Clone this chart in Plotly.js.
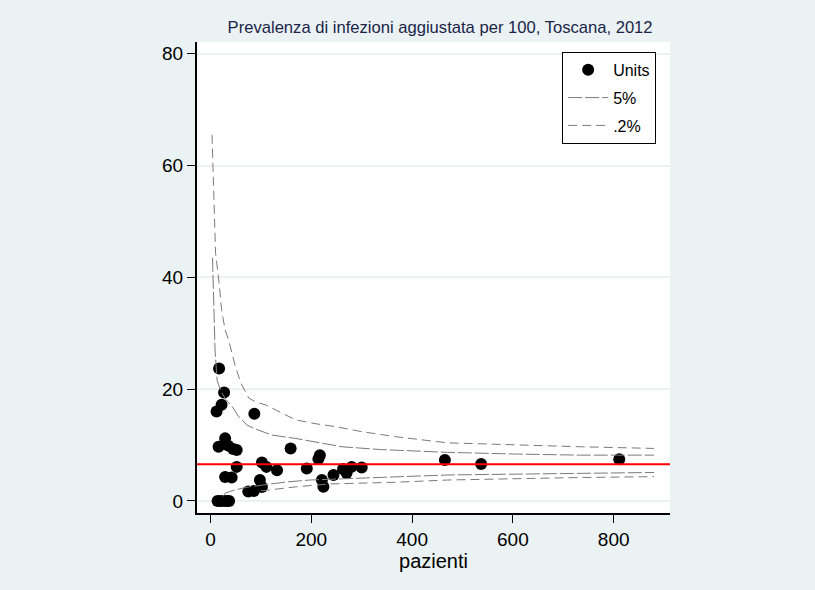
<!DOCTYPE html>
<html>
<head>
<meta charset="utf-8">
<script src="https://cdn.plot.ly/plotly-3.0.1.min.js"></script>
<style>html,body{margin:0;padding:0;background:#eaf2f3;}</style>
</head>
<body>
<div id="chart" style="width:815px;height:590px;"></div>
<script>
// Units (pazienti, prevalenza per 100)
var unitsN = [17, 27, 22, 12, 87, 29, 16, 35, 45, 52, 159, 52, 102, 111, 132, 29, 42, 98, 102, 75, 86, 191, 214, 217, 244, 221, 224, 263, 270, 280, 300, 465, 537, 811, 14, 20, 27, 33, 37];
var unitsV = [23.7, 19.4, 17.2, 16.0, 15.6, 11.2, 9.7, 9.9, 9.3, 9.1, 9.4, 6.1, 6.9, 6.1, 5.5, 4.3, 4.2, 3.75, 2.5, 1.7, 1.8, 5.8, 7.5, 8.2, 4.65, 3.75, 2.55, 5.7, 5.0, 6.1, 6.0, 7.35, 6.6, 7.45, 0, 0, 0, 0, 0];

// overall prevalence (red line)
var overall = 6.55;
var xRange = [-26.8, 911.7];

// 5% limits
var upper5N = [4, 6, 9, 13, 20, 30, 43, 55, 72, 86, 121, 168, 261, 337, 470, 602, 734, 880];
var upper5V = [43.5, 36, 27, 21.6, 19.8, 18.2, 16.9, 15.2, 13.6, 13.0, 11.8, 11.2, 9.7, 9.2, 8.7, 8.4, 8.2, 8.2];
var lower5N = [25, 29, 49, 75, 108, 150, 197, 297, 367, 470, 602, 734, 880];
var lower5V = [0.8, 1.4, 2.0, 2.5, 2.9, 3.4, 3.75, 4.05, 4.3, 4.65, 4.8, 5.0, 5.1];

// 0.2% limits
var upper02N = [3, 6, 10, 17, 22, 29, 36, 48, 60, 76, 90, 109, 142, 169, 210, 248, 300, 367, 470, 600, 734, 880];
var upper02V = [65.5, 55, 44.4, 39, 34.2, 30.6, 28.8, 24.5, 21.1, 18.4, 17.7, 17.2, 15.7, 14.5, 13.8, 13.3, 12.4, 11.5, 10.4, 10.0, 9.7, 9.4];
var lower02N = [100, 131, 171, 237, 297, 367, 470, 602, 734, 880];
var lower02V = [1.8, 2.1, 2.55, 3.05, 3.2, 3.35, 3.75, 4.0, 4.2, 4.35];

var yTicks = [0, 20, 40, 60, 80];
var xTicks = [0, 200, 400, 600, 800];

var FONT = 'Liberation Sans, Arial, sans-serif';
var GRAY = '#7a7a7a';

var traces = [
  {
    x: unitsN, y: unitsV, type: 'scatter', mode: 'markers', name: 'Units',
    legendgroup: 'a',
    marker: {color: '#000000', size: 12, line: {width: 0}}
  },
  {
    x: upper5N.concat([null], lower5N), y: upper5V.concat([null], lower5V),
    type: 'scatter', mode: 'lines', name: '5%', legendgroup: 'b',
    connectgaps: false,
    line: {color: GRAY, width: 1, dash: '14px,3px'}
  },
  {
    x: upper02N.concat([null], lower02N), y: upper02V.concat([null], lower02V),
    type: 'scatter', mode: 'lines', name: '.2%', legendgroup: 'c',
    connectgaps: false,
    line: {color: GRAY, width: 1, dash: '9px,5px'}
  },
  {
    x: xRange, y: [overall, overall], type: 'scatter', mode: 'lines',
    showlegend: false, hoverinfo: 'skip',
    line: {color: '#ff0000', width: 2}
  }
];

var layout = {
  width: 815, height: 590,
  paper_bgcolor: '#eaf2f3', plot_bgcolor: '#ffffff',
  margin: {l: 197, r: 145, t: 42, b: 77},
  font: {family: FONT, color: '#000000'},
  title: {
    text: 'Prevalenza di infezioni aggiustata per 100, Toscana, 2012',
    font: {family: FONT, size: 16.6, color: '#1a2448'},
    x: 0.54, xanchor: 'center', xref: 'container',
    y: 0.954, yanchor: 'middle', yref: 'container'
  },
  xaxis: {
    range: xRange, tickvals: xTicks, ticktext: xTicks.map(String),
    showgrid: false, zeroline: false,
    showline: true, linecolor: '#000000', linewidth: 2,
    ticks: 'outside', ticklen: 8, tickcolor: '#000000', tickwidth: 1,
    tickfont: {family: FONT, size: 19, color: '#000000'},
    title: {text: 'pazienti', font: {family: FONT, size: 20, color: '#000000'}, standoff: 0}
  },
  yaxis: {
    range: [-2.15, 82.1], tickvals: yTicks, ticktext: yTicks.map(String),
    showgrid: true, gridcolor: '#eaf2f3', gridwidth: 2, zeroline: false,
    showline: true, linecolor: '#000000', linewidth: 2,
    ticks: 'outside', ticklen: 8, tickcolor: '#000000', tickwidth: 1,
    tickfont: {family: FONT, size: 19, color: '#000000'}
  },
  showlegend: true,
  legend: {
    x: 0.772, y: 0.979, xanchor: 'left', yanchor: 'top',
    bgcolor: '#ffffff', bordercolor: '#000000', borderwidth: 1,
    font: {family: FONT, size: 16, color: '#000000'},
    traceorder: 'grouped', tracegroupgap: 4, itemwidth: 40
  }
};

Plotly.newPlot('chart', traces, layout, {displayModeBar: false, staticPlot: true});
</script>
</body>
</html>
